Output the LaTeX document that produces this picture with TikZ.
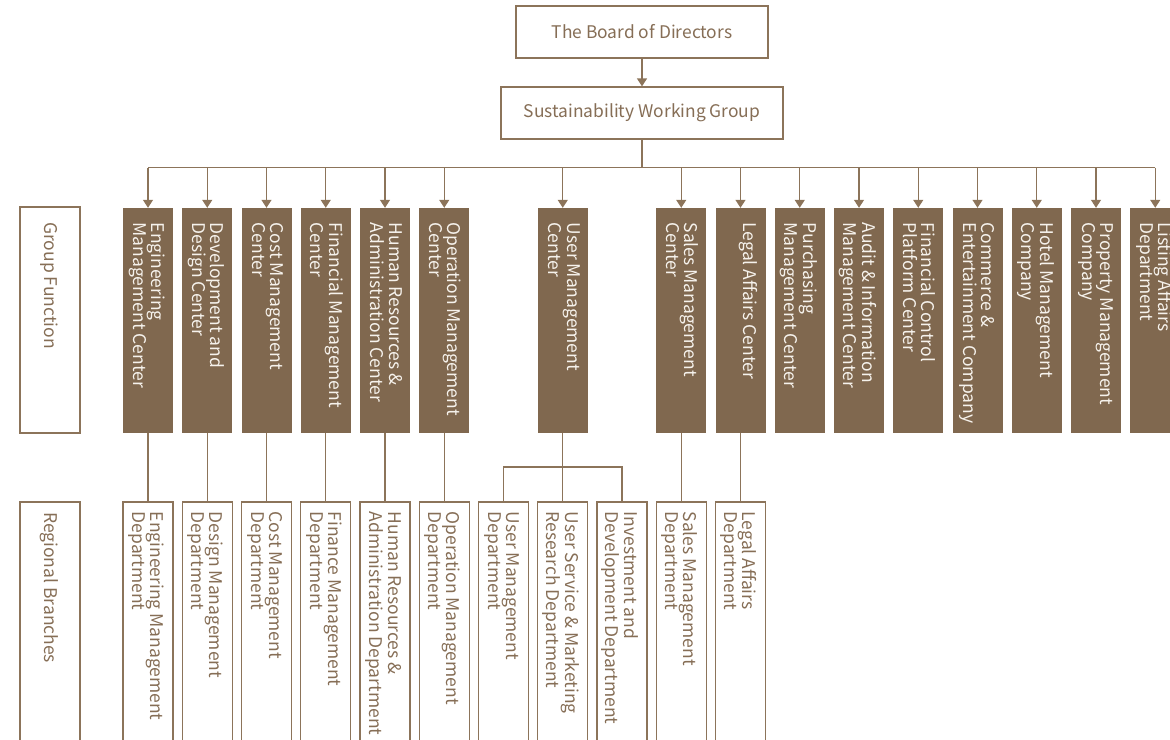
\documentclass[tikz,border=0pt]{standalone}
\usepackage{fontspec}
\setmainfont{Noto Sans CJK SC}
\usetikzlibrary{arrows.meta}
\definecolor{brn}{RGB}{128,104,79}
\definecolor{lnc}{RGB}{140,116,90}
\definecolor{txb}{RGB}{134,110,86}
\definecolor{txw}{RGB}{246,242,236}
\begin{document}
\begin{tikzpicture}[x=1pt,y=-1pt,
  conn/.style={draw=lnc, line width=1.3pt},
  arr/.style={conn, -{Triangle[width=10pt,length=8pt]}},
  topbox/.style={draw=lnc, line width=1.3pt, fill=white, inner sep=0pt, text=txb, font=\fontsize{17.4}{19}\selectfont},
  gbox/.style={fill=brn, draw=none, minimum width=50pt, minimum height=225pt, inner sep=0pt},
  rbox/.style={draw=lnc, line width=1.3pt, minimum width=50pt, minimum height=258pt, inner sep=0pt},
  lbox/.style={draw=lnc, line width=1.3pt, inner sep=0pt},
  gtext/.style={rotate=-90, anchor=north west, align=left, inner sep=0pt, text=txw, font=\fontsize{17.5}{18.4}\selectfont},
  rtext/.style={rotate=-90, anchor=north west, align=left, inner sep=0pt, text=txb, font=\fontsize{17.5}{18.4}\selectfont},
  ltext/.style={rotate=-90, anchor=west, inner sep=0pt, text=txb, font=\fontsize{17.5}{18.4}\selectfont}
]
\useasboundingbox (0,0) rectangle (1170,739);
\clip (0,0) rectangle (1170,739);

% top boxes
\node[topbox, minimum width=252pt, minimum height=52pt] (board) at (642,32) {The Board of Directors};
\node[topbox, minimum width=282pt, minimum height=52pt] (swg) at (642,113) {Sustainability Working Group};
\draw[arr] (board.south) -- (swg.south |- swg.north);

% left labels
\node[lbox, minimum width=60pt, minimum height=226pt] (gflabel) at (50,320) {};
\node[ltext] (gftext) at (49,222) {Group Function};
\node[lbox, minimum width=60pt, minimum height=260pt] (rblabel) at (50,632) {};
\node[ltext] (rbtext) at (49,512) {Regional Branches};

% group function boxes
\foreach \s/\t in {
  1/{Engineering\\Management Center},
  2/{Development and\\Design Center},
  3/{Cost Management\\Center},
  4/{Financial Management\\Center},
  5/{Human Resources \&\\Administration Center},
  6/{Operation Management\\Center},
  8/{User Management\\Center},
  10/{Sales Management\\Center},
  11/{Legal Affairs Center},
  12/{Purchasing\\Management Center},
  13/{Audit \& Information\\Management Center},
  14/{Financial Control\\Platform Center},
  15/{Commerce \&\\Entertainment Company},
  16/{Hotel Management\\Company},
  17/{Property Management\\Company},
  18/{Listing Affairs\\Department}}{
  \pgfmathsetmacro{\cx}{148+59.25*(\s-1)}
  \node[gbox] (g\s) at (\cx,320.5) {};
  \node[gtext] (gt\s) at (\cx+17.5,222.5) {\t};
}

% regional boxes
\foreach \s/\t in {
  1/{Engineering Management\\Department},
  2/{Design Management\\Department},
  3/{Cost Management\\Department},
  4/{Finance Management\\Department},
  5/{Human Resources \&\\Administration Department},
  6/{Operation Management\\Department},
  7/{User Management\\Department},
  8/{User Service \& Marketing\\Research Department},
  9/{Investment and\\Development Department},
  10/{Sales Management\\Department},
  11/{Legal Affairs\\Department}}{
  \pgfmathsetmacro{\cx}{148+59.25*(\s-1)}
  \node[rbox] (r\s) at (\cx,631) {};
  \node[rtext] (rt\s) at (\cx+16.5,511.5) {\t};
}

% bus
\coordinate (bus) at (642,167.5);
\draw[conn] (swg.south) -- (bus);
\draw[conn] (g1.north |- bus) -- (g18.north |- bus);
\foreach \s in {1,2,3,4,5,6,8,10,11,12,13,14,15,16,17,18}{
  \draw[arr] (g\s.north |- bus) -- (g\s.north);
}

% group to regional
\foreach \s in {1,2,3,4,5,6,8,10,11}{
  \draw[conn] (g\s.south) -- (r\s.north);
}
\coordinate (split) at (562,467);
\draw[conn] (r7.north) |- (split) -| (r9.north);
\end{tikzpicture}
\end{document}
